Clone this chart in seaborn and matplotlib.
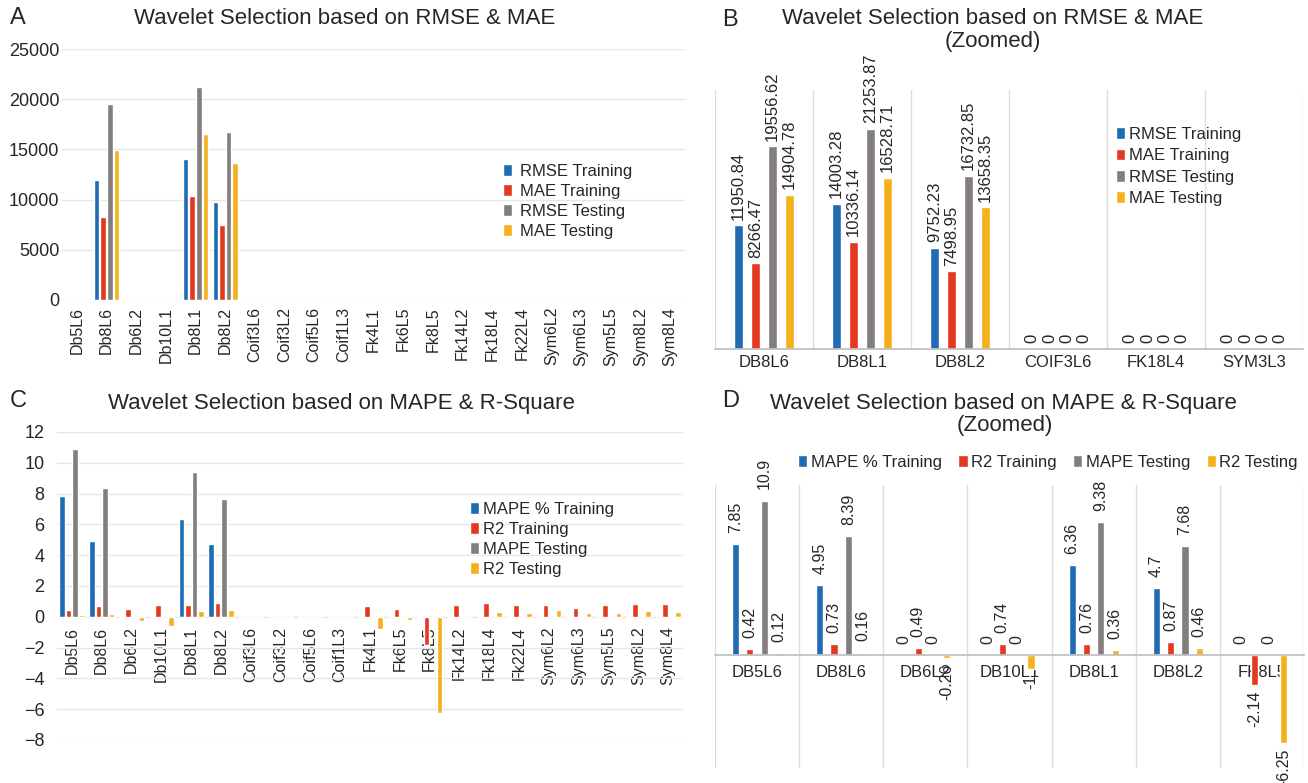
import matplotlib
matplotlib.use("Agg")
import matplotlib.pyplot as plt
import numpy as np
import pandas as pd
import seaborn as sns

# ---------------- DATA ----------------
cats_ac = ["Db5L6", "Db8L6", "Db6L2", "Db10L1", "Db8L1", "Db8L2", "Coif3L6", "Coif3L2",
           "Coif5L6", "Coif1L3", "Fk4L1", "Fk6L5", "Fk8L5", "Fk14L2", "Fk18L4", "Fk22L4",
           "Sym6L2", "Sym6L3", "Sym5L5", "Sym8L2", "Sym8L4"]
series_ab = ["RMSE Training", "MAE Training", "RMSE Testing", "MAE Testing"]
series_cd = ["MAPE % Training", "R2 Training", "MAPE Testing", "R2 Testing"]

# Panel A
a_rmse_train = [0, 11950.84, 0, 0, 14003.28, 9752.23, 0, 0, 0, 0, 0, 0, 0, 0, 0, 0, 0, 0, 0, 0, 0]
a_mae_train = [0, 8266.47, 0, 0, 10336.14, 7498.95, 0, 0, 0, 0, 0, 0, 0, 0, 0, 0, 0, 0, 0, 0, 0]
a_rmse_test = [0, 19556.62, 0, 0, 21253.87, 16732.85, 0, 0, 0, 0, 0, 0, 0, 0, 0, 0, 0, 0, 0, 0, 0]
a_mae_test = [0, 14904.78, 0, 0, 16528.71, 13658.35, 0, 0, 0, 0, 0, 0, 0, 0, 0, 0, 0, 0, 0, 0, 0]

# Panel B
cats_b = ["DB8L6", "DB8L1", "DB8L2", "COIF3L6", "FK18L4", "SYM3L3"]
b_rmse_train = [11950.84, 14003.28, 9752.23, 0, 0, 0]
b_mae_train = [8266.47, 10336.14, 7498.95, 0, 0, 0]
b_rmse_test = [19556.62, 21253.87, 16732.85, 0, 0, 0]
b_mae_test = [14904.78, 16528.71, 13658.35, 0, 0, 0]

# Panel C
c_mape_train = [7.85, 4.95, 0, 0, 6.36, 4.7, 0, 0, 0, 0, 0, 0, 0, 0, 0, 0, 0, 0, 0, 0, 0]
c_r2_train = [0.42, 0.73, 0.49, 0.74, 0.76, 0.87, 0, 0, 0, 0, 0.7, 0.52, -1.8, 0.78, 0.87,
              0.76, 0.78, 0.58, 0.76, 0.8, 0.8]
c_mape_test = [10.9, 8.39, 0, 0, 9.38, 7.68, 0, 0, 0, 0, 0, 0, 0, 0, 0, 0, 0, 0, 0, 0, 0]
c_r2_test = [0.12, 0.16, -0.26, -0.6, 0.36, 0.46, 0, 0, 0, 0, -0.8, -0.22, -6.25, 0, 0.3,
             0.27, 0.42, 0.25, 0.27, 0.35, 0.3]

# Panel D
cats_d = ["DB5L6", "DB8L6", "DB6L2", "DB10L1", "DB8L1", "DB8L2", "FK8L5"]
d_mape_train = [7.85, 4.95, 0, 0, 6.36, 4.7, 0]
d_r2_train = [0.42, 0.73, 0.49, 0.74, 0.76, 0.87, -2.14]
d_mape_test = [10.9, 8.39, 0, 0, 9.38, 7.68, 0]
d_r2_test = [0.12, 0.16, -0.26, -1, 0.36, 0.46, -6.25]

colors = ["#1f6cb5", "#e2391f", "#837e7b", "#f5b01e"]
TXT = "#262626"

# ---------------- STYLE ----------------
sns.set_theme(style="white")
plt.rcParams["font.family"] = ["Liberation Sans", "DejaVu Sans"]
plt.rcParams["text.color"] = TXT
plt.rcParams["xtick.color"] = TXT
plt.rcParams["ytick.color"] = TXT

W, H = 1308, 783
fig = plt.figure(figsize=(W / 100, H / 100), dpi=100)


def rect(l, t, r, b):
    return [l / W, 1 - b / H, (r - l) / W, (b - t) / H]


def fx(x):
    return x / W


def fy(y):
    return 1 - y / H


def long_df(cats, names, arrays):
    rows = []
    for name, vals in zip(names, arrays):
        for c, v in zip(cats, vals):
            rows.append((c, name, v))
    return pd.DataFrame(rows, columns=["cat", "series", "value"])


def draw(ax, cats, names, arrays, width, gap):
    df = long_df(cats, names, arrays)
    sns.barplot(data=df, x="cat", y="value", hue="series", order=cats, hue_order=names,
                palette=colors, width=width, gap=gap, errorbar=None, saturation=1,
                ax=ax, legend=True)
    ax.set_xlabel("")
    ax.set_ylabel("")
    for s in ax.spines.values():
        s.set_visible(False)
    ax.tick_params(length=0)


def fmt(v):
    s = f"{v:.2f}".rstrip("0").rstrip(".")
    return "0" if s in ("-0", "") else s


def make_legend(ax, fs, **kw):
    h, l = ax.get_legend_handles_labels()
    ax.legend(h, l, frameon=False, fontsize=fs, bbox_transform=fig.transFigure,
              borderpad=0, borderaxespad=0, handlelength=0.55, handleheight=0.7, **kw)


# ---------------- PANEL A ----------------
axA = fig.add_axes(rect(62, 49, 685, 300))
draw(axA, cats_ac, series_ab, [a_rmse_train, a_mae_train, a_rmse_test, a_mae_test], 0.88, 0.15)
axA.set_ylim(0, 25000)
axA.set_yticks([0, 5000, 10000, 15000, 20000, 25000])
axA.grid(axis="y", color="#e6e6e6", linewidth=1)
axA.set_axisbelow(True)
axA.tick_params(axis="x", labelrotation=90, labelsize=11.5, pad=5)
axA.tick_params(axis="y", labelsize=13, pad=2)
make_legend(axA, 12, loc="upper left", bbox_to_anchor=(fx(503), fy(164)),
            labelspacing=0.3, handletextpad=0.5)
fig.text(fx(10), fy(18), "A", fontsize=17, ha="left", va="center")
fig.text(fx(345), fy(18), "Wavelet Selection based on RMSE & MAE", fontsize=16,
         ha="center", va="center")

# ---------------- PANEL B ----------------
axB = fig.add_axes(rect(715, 90, 1303, 349))
b_arrays = [b_rmse_train, b_mae_train, b_rmse_test, b_mae_test]
draw(axB, cats_b, series_ab, b_arrays, 0.70, 0.46)
axB.set_ylim(0, 25000)
axB.set_yticks([])
axB.spines["bottom"].set_visible(True)
axB.spines["bottom"].set_color("#bfbfbf")
for i in range(len(cats_b) + 1):
    axB.axvline(i - 0.5, color="#dcdcdc", linewidth=1, zorder=0)
axB.tick_params(axis="x", labelsize=12, pad=4)
for cont, vals in zip(axB.containers, b_arrays):
    axB.bar_label(cont, labels=[fmt(v) for v in vals], rotation=90, padding=4, fontsize=12,
                  color=TXT)
make_legend(axB, 12, loc="upper left", bbox_to_anchor=(fx(1116), fy(127)),
            labelspacing=0.38, handletextpad=0.25)
fig.text(fx(722), fy(20), "B", fontsize=17, ha="left", va="center")
fig.text(fx(993), fy(18), "Wavelet Selection based on RMSE & MAE", fontsize=16,
         ha="center", va="center")
fig.text(fx(993), fy(42), "(Zoomed)", fontsize=16, ha="center", va="center")

# ---------------- PANEL C ----------------
axC = fig.add_axes(rect(57, 432, 683, 740))
draw(axC, cats_ac, series_cd, [c_mape_train, c_r2_train, c_mape_test, c_r2_test], 0.88, 0.15)
axC.set_ylim(-8, 12)
axC.set_yticks(list(range(-8, 13, 2)))
axC.grid(axis="y", color="#e6e6e6", linewidth=1)
axC.set_axisbelow(True)
axC.spines["bottom"].set_position(("data", 0))
axC.tick_params(axis="x", labelrotation=90, labelsize=11.5, pad=7)
axC.tick_params(axis="y", labelsize=13, pad=9)
make_legend(axC, 12, loc="upper left", bbox_to_anchor=(fx(470), fy(502)),
            labelspacing=0.3, handletextpad=0.25)
fig.text(fx(10), fy(401), "C", fontsize=17, ha="left", va="center")
fig.text(fx(341), fy(403), "Wavelet Selection based on MAPE & R-Square", fontsize=16,
         ha="center", va="center")

# ---------------- PANEL D ----------------
axD = fig.add_axes(rect(715, 485, 1304, 768))
d_arrays = [d_mape_train, d_r2_train, d_mape_test, d_r2_test]
draw(axD, cats_d, series_cd, d_arrays, 0.68, 0.5)
axD.set_ylim(-8, 12)
axD.set_yticks([])
axD.spines["bottom"].set_visible(True)
axD.spines["bottom"].set_color("#bfbfbf")
axD.spines["bottom"].set_position(("data", 0))
for i in range(len(cats_d) + 1):
    axD.axvline(i - 0.5, color="#dcdcdc", linewidth=1, zorder=0)
axD.tick_params(axis="x", labelsize=12, pad=7)
for cont, vals in zip(axD.containers, d_arrays):
    anns = axD.bar_label(cont, labels=[fmt(v) for v in vals], rotation=90, padding=8,
                         fontsize=11.5, color=TXT)
    for ann, v in zip(anns, vals):
        if v < 0:
            ann.xyann = (0, -4)
make_legend(axD, 12, loc="center", bbox_to_anchor=(fx(1048), fy(462)), ncol=4,
            columnspacing=1.0, handletextpad=0.2)
fig.text(fx(722), fy(401), "D", fontsize=17, ha="left", va="center")
fig.text(fx(1003), fy(403), "Wavelet Selection based on MAPE & R-Square", fontsize=16,
         ha="center", va="center")
fig.text(fx(1005), fy(425), "(Zoomed)", fontsize=16, ha="center", va="center")

fig.savefig("out.png", dpi=100)
